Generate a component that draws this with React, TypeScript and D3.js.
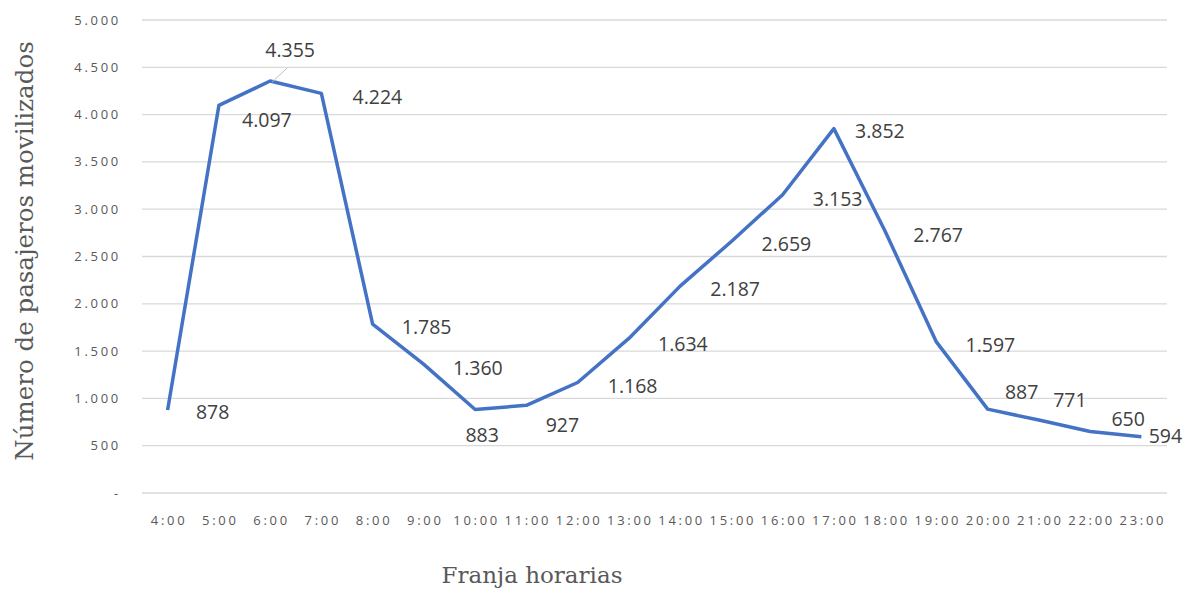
import React from "react";
import * as d3 from "d3";

const categories = ["4:00","5:00","6:00","7:00","8:00","9:00","10:00","11:00","12:00","13:00","14:00","15:00","16:00","17:00","18:00","19:00","20:00","21:00","22:00","23:00"];
const passengers = [878,4097,4355,4224,1785,1360,883,927,1168,1634,2187,2659,3153,3852,2767,1597,887,771,650,594];
const yTicks = [0,500,1000,1500,2000,2500,3000,3500,4000,4500,5000];
// label offsets (layout only)
const labelDx = [45,48,20,56,54,54,7,36,55,54,55,55,55,46,53,54,34,31,38,24];
const labelDy = [2,15,-31,4,3,4,26,20,4,6,3,3,4,3,4,3,-17,-20,-12,-1];

const W = 1187, H = 590;
const left = 142, right = 1167, top = 20, bottom = 493;

export default function App() {
  const x = d3.scaleBand<string>().domain(categories).range([left, right]);
  const y = d3.scaleLinear().domain([0, 5000]).range([bottom, top]);
  const fmt = (v: number) => v === 0 ? "-" : d3.format(",")(v).replace(/,/g, ".");
  const px = (i: number) => (x(categories[i]) as number) + x.bandwidth() / 2;
  const line = d3.line<number>().x((_, i) => px(i)).y(d => y(d));
  return (
    <svg width={W} height={H} style={{ position: "absolute", left: 0, top: 0, background: "#fff" }}>
      {yTicks.map(t => (
        <g key={t}>
          <line x1={left} x2={right} y1={y(t)} y2={y(t)} stroke="#d9d9d9" strokeWidth={1.3} />
          <text x={121} y={y(t)} dy="0.35em" textAnchor="end" fontFamily="'Open Sans', sans-serif" fontSize={13} letterSpacing={2.7} fill="#595959">{fmt(t)}</text>
        </g>
      ))}
      {categories.map((c, i) => (
        <text key={c} x={px(i) + 1.5} y={525} textAnchor="middle" fontFamily="'Open Sans', sans-serif" fontSize={13} letterSpacing={2.7} fill="#595959">{c}</text>
      ))}
      <path d={line(passengers) || ""} fill="none" stroke="#4472C4" strokeWidth={3.5} strokeLinejoin="round" />
      <line x1={px(2) + 17} y1={y(passengers[2]) - 13} x2={px(2) + 2} y2={y(passengers[2]) + 1} stroke="#bfbfbf" strokeWidth={1} />
      {passengers.map((v, i) => (
        <text key={i} x={px(i) + labelDx[i]} y={y(v) + labelDy[i]} dy="0.35em" textAnchor="middle" fontFamily="'Open Sans', sans-serif" fontSize={19.5} fill="#404040">{fmt(v)}</text>
      ))}
      <text transform={`translate(33,251) rotate(-90)`} textAnchor="middle" fontFamily="'DejaVu Serif', serif" fontSize={24.5} fill="#595959">Número de pasajeros movilizados</text>
      <text x={532} y={583} textAnchor="middle" fontFamily="'DejaVu Serif', serif" fontSize={23} fill="#595959">Franja horarias</text>
    </svg>
  );
}
